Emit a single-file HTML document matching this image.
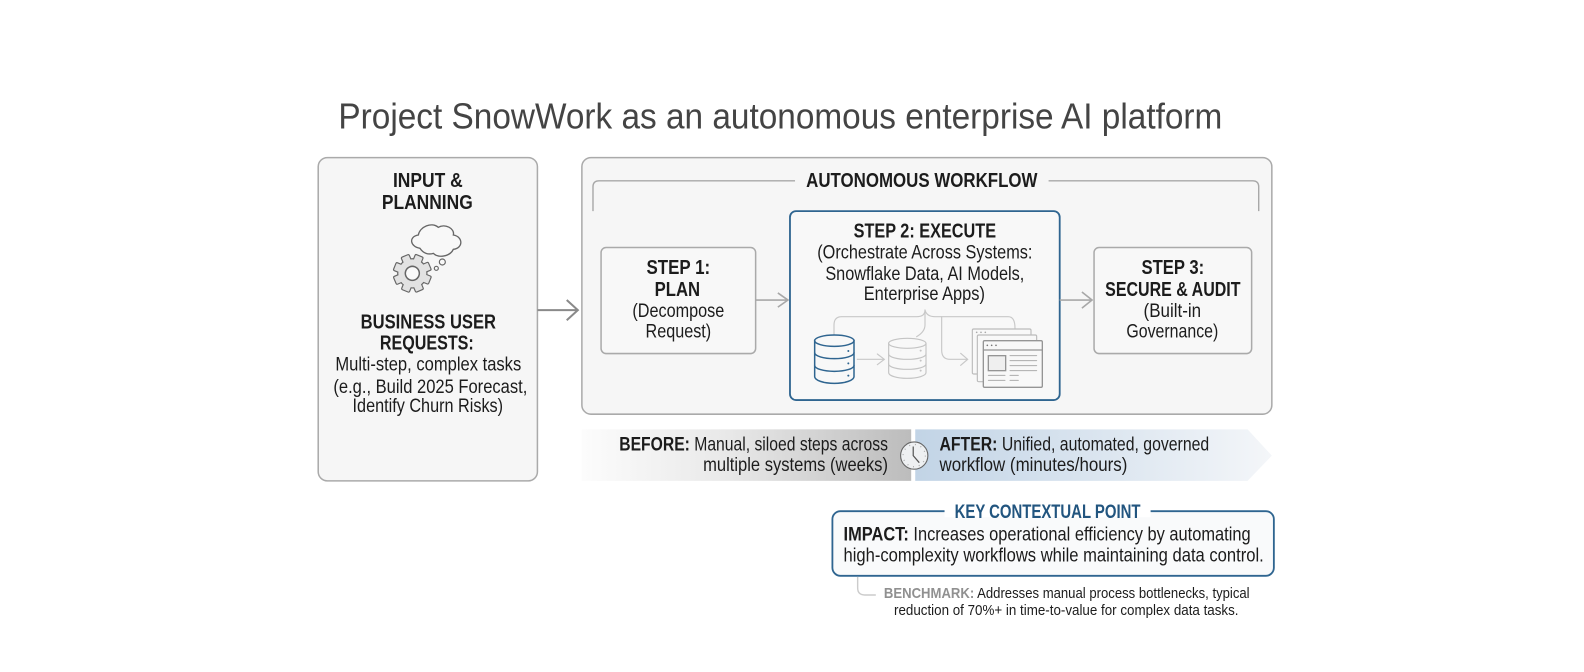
<!DOCTYPE html>
<html><head><meta charset="utf-8"><style>
html,body{margin:0;padding:0;background:#fff;width:1584px;height:672px;overflow:hidden}
svg{display:block}
text{font-family:"Liberation Sans",sans-serif;fill:#1c1c1c;font-size:19px}
.b{font-weight:700;font-size:20.5px}
.t{font-size:19px}
</style></head><body>
<svg width="1584" height="672" viewBox="0 0 1584 672" xmlns="http://www.w3.org/2000/svg">
<defs>
<linearGradient id="gb" x1="0" x2="1" y1="0" y2="0"><stop offset="0" stop-color="#fcfcfc"/><stop offset=".45" stop-color="#e8e8e8"/><stop offset="1" stop-color="#bcbcbc"/></linearGradient>
<linearGradient id="ga" x1="0" x2="1" y1="0" y2="0"><stop offset="0" stop-color="#c2d4e6"/><stop offset=".6" stop-color="#dfe8f1"/><stop offset="1" stop-color="#f4f6f9"/></linearGradient>
<g id="gear">
<circle cx="0" cy="0" r="42"/>
<rect x="-11" y="-55" width="22" height="110" rx="2"/>
<rect x="-11" y="-55" width="22" height="110" rx="2" transform="rotate(45)"/>
<rect x="-11" y="-55" width="22" height="110" rx="2" transform="rotate(90)"/>
<rect x="-11" y="-55" width="22" height="110" rx="2" transform="rotate(135)"/>
</g>
</defs>
<g transform="scale(1.0102)">
<text x="335" y="127" style="font-size:36px;fill:#444" textLength="875" lengthAdjust="spacingAndGlyphs">Project SnowWork as an autonomous enterprise AI platform</text>

<rect x="315" y="156" width="217" height="320" rx="9" fill="#f6f6f6" stroke="#aaa" stroke-width="1.5"/>
<text class="b" x="389" y="185" textLength="69" lengthAdjust="spacingAndGlyphs">INPUT &amp;</text>
<text class="b" x="378" y="207" textLength="90" lengthAdjust="spacingAndGlyphs">PLANNING</text>
<text class="b" x="357" y="325" textLength="134" lengthAdjust="spacingAndGlyphs">BUSINESS USER</text>
<text class="b" x="376" y="346" textLength="93" lengthAdjust="spacingAndGlyphs">REQUESTS:</text>
<text class="t" x="332" y="367" textLength="184" lengthAdjust="spacingAndGlyphs">Multi-step, complex tasks</text>
<text class="t" x="330" y="389" textLength="192" lengthAdjust="spacingAndGlyphs">(e.g., Build 2025 Forecast,</text>
<text class="t" x="349" y="408" textLength="149" lengthAdjust="spacingAndGlyphs">Identify Churn Risks)</text>

<path d="M532 307H571M561 297L572 307L561 317" fill="none" stroke="#8a8a8a" stroke-width="2"/>

<rect x="576" y="156" width="683" height="254" rx="9" fill="#f6f6f6" stroke="#aaa" stroke-width="1.5"/>
<path d="M587 209V185Q587 179 593 179H787M1038 179H1240Q1246 179 1246 185V209" fill="none" stroke="#a8a8a8" stroke-width="1.4"/>
<text class="b" x="798" y="185" textLength="229" lengthAdjust="spacingAndGlyphs">AUTONOMOUS WORKFLOW</text>

<rect x="595" y="245" width="153" height="105" rx="5" fill="#f8f8f8" stroke="#aaa" stroke-width="1.5"/>
<text class="b" x="640" y="271" textLength="63" lengthAdjust="spacingAndGlyphs">STEP 1:</text>
<text class="b" x="648" y="293" textLength="45" lengthAdjust="spacingAndGlyphs">PLAN</text>
<text class="t" x="626" y="314" textLength="91" lengthAdjust="spacingAndGlyphs">(Decompose</text>
<text class="t" x="639" y="334" textLength="65" lengthAdjust="spacingAndGlyphs">Request)</text>

<path d="M748 297H779M770 290L780 297L770 304" fill="none" stroke="#a8a8a8" stroke-width="1.6"/>

<rect x="782" y="209" width="267" height="187" rx="6" fill="#f8f8f8" stroke="#2f6590" stroke-width="1.8"/>
<text class="b" x="845" y="235" textLength="141" lengthAdjust="spacingAndGlyphs">STEP 2: EXECUTE</text>
<text class="t" x="809" y="256" textLength="213" lengthAdjust="spacingAndGlyphs">(Orchestrate Across Systems:</text>
<text class="t" x="817" y="277" textLength="197" lengthAdjust="spacingAndGlyphs">Snowflake Data, AI Models,</text>
<text class="t" x="855" y="297" textLength="120" lengthAdjust="spacingAndGlyphs">Enterprise Apps)</text>

<path d="M1049 297H1080M1071 289L1081 297L1071 305" fill="none" stroke="#a8a8a8" stroke-width="1.6"/>

<rect x="1083" y="245" width="156" height="105" rx="5" fill="#f8f8f8" stroke="#aaa" stroke-width="1.5"/>
<text class="b" x="1130" y="271" textLength="62" lengthAdjust="spacingAndGlyphs">STEP 3:</text>
<text class="b" x="1094" y="293" textLength="134" lengthAdjust="spacingAndGlyphs">SECURE &amp; AUDIT</text>
<text class="t" x="1132" y="314" textLength="57" lengthAdjust="spacingAndGlyphs">(Built-in</text>
<text class="t" x="1115" y="334" textLength="91" lengthAdjust="spacingAndGlyphs">Governance)</text>

<rect x="576" y="425" width="326" height="51" fill="url(#gb)"/>
<path d="M906 425H1235L1259 451L1235 476H906Z" fill="url(#ga)"/>
<text class="t" x="613" y="446" textLength="266" lengthAdjust="spacingAndGlyphs"><tspan style="font-weight:700">BEFORE:</tspan> Manual, siloed steps across</text>
<text class="t" x="696" y="466" textLength="183" lengthAdjust="spacingAndGlyphs">multiple systems (weeks)</text>
<text class="t" x="930" y="446" textLength="267" lengthAdjust="spacingAndGlyphs"><tspan style="font-weight:700">AFTER:</tspan> Unified, automated, governed</text>
<text class="t" x="930" y="466" textLength="186" lengthAdjust="spacingAndGlyphs">workflow (minutes/hours)</text>

<circle cx="905" cy="451" r="13.5" fill="#eef0f2" stroke="#666" stroke-width="1.1"/>
<circle cx="905" cy="451" r="11" fill="none" stroke="#aaa" stroke-width="1.2" stroke-dasharray="1 4.8"/>
<path d="M904 442V451L910 458" fill="none" stroke="#555" stroke-width="1.2"/>

<rect x="824" y="506" width="437" height="64" rx="8" fill="#f9fafb" stroke="#2f6590" stroke-width="1.8"/>
<rect x="935" y="500" width="204" height="12" fill="#fff"/>
<text x="945" y="513" style="font-size:19px;font-weight:700;fill:#22557f" textLength="184" lengthAdjust="spacingAndGlyphs">KEY CONTEXTUAL POINT</text>
<text class="t" x="835" y="535" textLength="403" lengthAdjust="spacingAndGlyphs"><tspan style="font-weight:700">IMPACT:</tspan> Increases operational efficiency by automating</text>
<text class="t" x="835" y="556" textLength="416" lengthAdjust="spacingAndGlyphs">high-complexity workflows while maintaining data control.</text>

<path d="M849 571V582Q849 589 856 589H867" fill="none" stroke="#ccc" stroke-width="1.4"/>
<text x="875" y="592" style="font-size:14.5px" textLength="362" lengthAdjust="spacingAndGlyphs"><tspan style="font-weight:700;fill:#909090">BENCHMARK:</tspan> Addresses manual process bottlenecks, typical</text>
<text x="885" y="609" style="font-size:14.5px" textLength="341" lengthAdjust="spacingAndGlyphs">reduction of 70%+ in time-to-value for complex data tasks.</text>
</g>

<!-- Input icon -->
<g transform="translate(310,150) scale(.33333)">
<path d="M330 295C300 290 295 260 325 255C330 230 365 215 385 232C405 220 435 235 430 255C460 260 460 295 430 298C420 320 385 325 370 310C355 315 340 310 330 295Z" fill="#f8f8f8" stroke="#666" stroke-width="4"/>
<circle cx="397" cy="336" r="9" fill="#f8f8f8" stroke="#666" stroke-width="3.5"/>
<circle cx="379" cy="355" r="6" fill="#f8f8f8" stroke="#666" stroke-width="3.5"/>
<g transform="translate(307,370) rotate(22)">
<use href="#gear" fill="#666" stroke="#666" stroke-width="7"/>
<use href="#gear" fill="#e2e2e2"/>
<circle r="21" fill="#fafafa" stroke="#666" stroke-width="4.5"/>
</g>
</g>

<!-- Step 2 icons -->
<g transform="translate(770,200) scale(.33333)" fill="none" stroke-linecap="round">
<g stroke="#c8c8c8" stroke-width="3.5">
<path d="M465 330Q465 350 440 350H215Q192 350 192 375V405"/>
<path d="M465 335V375Q465 395 440 410"/>
<path d="M465 330Q470 350 495 350H715Q735 350 735 385"/>
<path d="M515 350V450Q515 478 540 478H592M572 460L593 478L572 496"/>
<path d="M262 478H342M322 462L343 478L322 494"/>
</g>
<g stroke="#2f6590" stroke-width="4.5" fill="#f8f8f8">
<path d="M134 422V530A59 20 0 0 0 252 530V422Z"/>
<ellipse cx="193" cy="422" rx="59" ry="17"/>
<path d="M134 458A59 18 0 0 0 252 458M134 496A59 18 0 0 0 252 496"/>
</g>
<g fill="#2f6590"><circle cx="235" cy="453" r="3"/><circle cx="235" cy="490" r="3"/><circle cx="235" cy="527" r="3"/></g>
<g stroke="#c4c4c4" stroke-width="3.5" fill="#f8f8f8">
<path d="M356 430V518A56 17 0 0 0 468 518V430Z"/>
<ellipse cx="412" cy="430" rx="56" ry="15"/>
<path d="M356 462A56 16 0 0 0 468 462M356 492A56 16 0 0 0 468 492"/>
</g>
<g fill="#c4c4c4"><circle cx="452" cy="452" r="3"/><circle cx="452" cy="482" r="3"/><circle cx="452" cy="512" r="3"/></g>
<g stroke="#bcbcbc" stroke-width="3.5" fill="#f8f8f8">
<rect x="607" y="387" width="176" height="135" rx="4"/>
<rect x="622" y="405" width="178" height="140" rx="4"/>
</g>
<rect x="640" y="422" width="177" height="140" rx="4" fill="#f8f8f8" stroke="#959595" stroke-width="4"/>
<path d="M640 450H817" stroke="#959595" stroke-width="3.5"/>
<rect x="655" y="467" width="52" height="45" fill="#efefef" stroke="#959595" stroke-width="4"/>
<path d="M720 467H800M720 482H800M720 497H800M720 512H800M655 526H705M720 526H745M655 541H705M720 541H745" stroke="#adadad" stroke-width="3"/>
<g fill="#777"><circle cx="652" cy="436" r="2.5"/><circle cx="665" cy="436" r="2.5"/><circle cx="678" cy="436" r="2.5"/></g>
<g fill="#aaa"><circle cx="620" cy="397" r="2.5"/><circle cx="633" cy="397" r="2.5"/><circle cx="646" cy="397" r="2.5"/></g>
</g>
</svg>
</body></html>
